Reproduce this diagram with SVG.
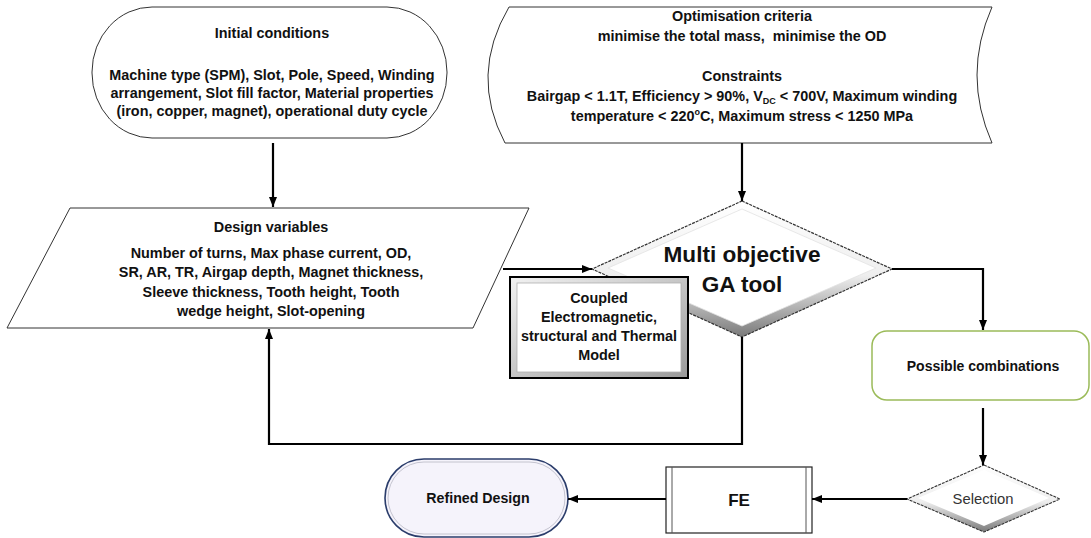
<svg xmlns="http://www.w3.org/2000/svg" width="1091" height="538" viewBox="0 0 1091 538">
<defs>
<style>
.t{font-family:"Liberation Sans",Arial,sans-serif;font-weight:bold;font-size:14.4px;fill:#111;text-anchor:middle}
.sh{fill:#fff;stroke:#333;stroke-width:1}
.cn{fill:none;stroke:#000;stroke-width:2.2;marker-end:url(#ah)}
</style>
<marker id="ah" viewBox="0 0 10 8" refX="10" refY="4" markerWidth="10" markerHeight="8" markerUnits="userSpaceOnUse" orient="auto">
<path d="M0,0 L10,4 L0,8 Z" fill="#000"/>
</marker>
<linearGradient id="bev" x1="0" y1="0" x2="0" y2="1">
<stop offset="0" stop-color="#fff"/>
<stop offset="0.55" stop-color="#eee"/>
<stop offset="1" stop-color="#7a7a7a"/>
</linearGradient>
<linearGradient id="boxg" x1="0" y1="0" x2="1" y2="1">
<stop offset="0" stop-color="#f2f2f2"/>
<stop offset="1" stop-color="#9a9a9a"/>
</linearGradient>
</defs>

<g id="initial">
<rect x="92" y="7" width="355" height="131" rx="60" ry="65" class="sh"/>
<text class="t" x="272" y="38">Initial conditions</text>
<text class="t" x="272" y="80">Machine type (SPM), Slot, Pole, Speed, Winding</text>
<text class="t" x="272" y="98">arrangement, Slot fill factor, Material properties</text>
<text class="t" x="272" y="116">(iron, copper, magnet), operational duty cycle</text>
</g>

<g id="optimisation">
<path d="M509,7 L992,7 Q962,75 992,143 L505,143 Q469,75 509,7 Z" class="sh"/>
<text class="t" x="742" y="21">Optimisation criteria</text>
<text class="t" x="742" y="41" xml:space="preserve">minimise the total mass,  minimise the OD</text>
<text class="t" x="742" y="81">Constraints</text>
<text class="t" x="742" y="101">Bairgap &lt; 1.1T, Efficiency &gt; 90%, V<tspan font-size="9" dy="3">DC</tspan><tspan dy="-3"> &lt; 700V, Maximum winding</tspan></text>
<text class="t" x="742" y="121">temperature &lt; 220<tspan font-size="9" dy="-6">o</tspan><tspan dy="6">C, Maximum stress &lt; 1250 MPa</tspan></text>
</g>

<g id="design-variables">
<polygon points="70,208 529,208 473,328 7,328" class="sh"/>
<text class="t" x="271" y="232">Design variables</text>
<text class="t" x="271" y="258">Number of turns, Max phase current, OD,</text>
<text class="t" x="271" y="277">SR, AR, TR, Airgap depth, Magnet thickness,</text>
<text class="t" x="271" y="297">Sleeve thickness, Tooth height, Tooth</text>
<text class="t" x="271" y="316">wedge height, Slot-opening</text>
</g>

<g id="ga-tool">
<polygon points="742,201 892,269 742,337 592,269" fill="url(#bev)"/>
<polygon points="742,209 876,268 742,326 608,268" fill="#fff" stroke="#e2e2e2" stroke-width="0.8"/>
<polygon points="742,201 892,269 742,337 592,269" fill="none" stroke="#333" stroke-width="1.2" stroke-dasharray="3 1"/>
<text class="t" x="742" y="262" style="font-size:22.6px">Multi objective</text>
<text class="t" x="742" y="292" style="font-size:22.6px">GA tool</text>
</g>

<g id="coupled-model">
<rect x="510" y="277" width="178" height="101" fill="url(#boxg)" stroke="#000" stroke-width="2"/>
<rect x="517" y="283" width="164" height="89" fill="#fff" stroke="#b0b0b0" stroke-width="0.8"/>
<text class="t" x="599" y="303">Coupled</text>
<text class="t" x="599" y="322">Electromagnetic,</text>
<text class="t" x="599" y="341">structural and Thermal</text>
<text class="t" x="599" y="360">Model</text>
</g>

<g id="possible-combinations">
<rect x="872" y="331" width="217" height="69" rx="15" fill="#fff" stroke="#9bbb59" stroke-width="1.5"/>
<text class="t" x="983" y="371" style="font-size:14px">Possible combinations</text>
</g>

<g id="selection">
<polygon points="984,465 1060,499 984,532 907,499" fill="url(#bev)"/>
<polygon points="984,470 1049,498 984,526 918,498" fill="#fff"/>
<polygon points="984,465 1060,499 984,532 907,499" fill="none" stroke="#333" stroke-width="1.1" stroke-dasharray="3 1"/>
<text x="983" y="504" style="font-family:'Liberation Sans',Arial,sans-serif;font-size:14.8px;fill:#333;text-anchor:middle">Selection</text>
</g>

<g id="fe">
<rect x="666" y="467" width="146" height="66" fill="#fff" stroke="#222" stroke-width="1.2"/>
<line x1="672" y1="467" x2="672" y2="533" stroke="#555" stroke-width="1"/>
<line x1="806" y1="467" x2="806" y2="533" stroke="#555" stroke-width="1"/>
<text class="t" x="739" y="506" style="font-size:17px">FE</text>
</g>

<g id="refined-design">
<rect x="385" y="459" width="183" height="78" rx="39" ry="39" fill="#f5f3fb" stroke="#2b3d6b" stroke-width="1.6"/>
<rect x="388" y="462" width="177" height="72" rx="36" ry="36" fill="none" stroke="#b8b8c4" stroke-width="0.8"/>
<text class="t" x="478" y="503" style="font-size:14.2px">Refined Design</text>
</g>

<g id="connectors">
<path class="cn" d="M273,143 V207"/>
<path class="cn" d="M742,143 V201"/>
<path class="cn" d="M503,269 H592"/>
<path class="cn" d="M892,269 H983 V330"/>
<path class="cn" d="M742,337 V444 H269 V329"/>
<path class="cn" d="M983,408 V465"/>
<path class="cn" d="M907,499 H812"/>
<path class="cn" d="M666,499 H568"/>
</g>
</svg>
